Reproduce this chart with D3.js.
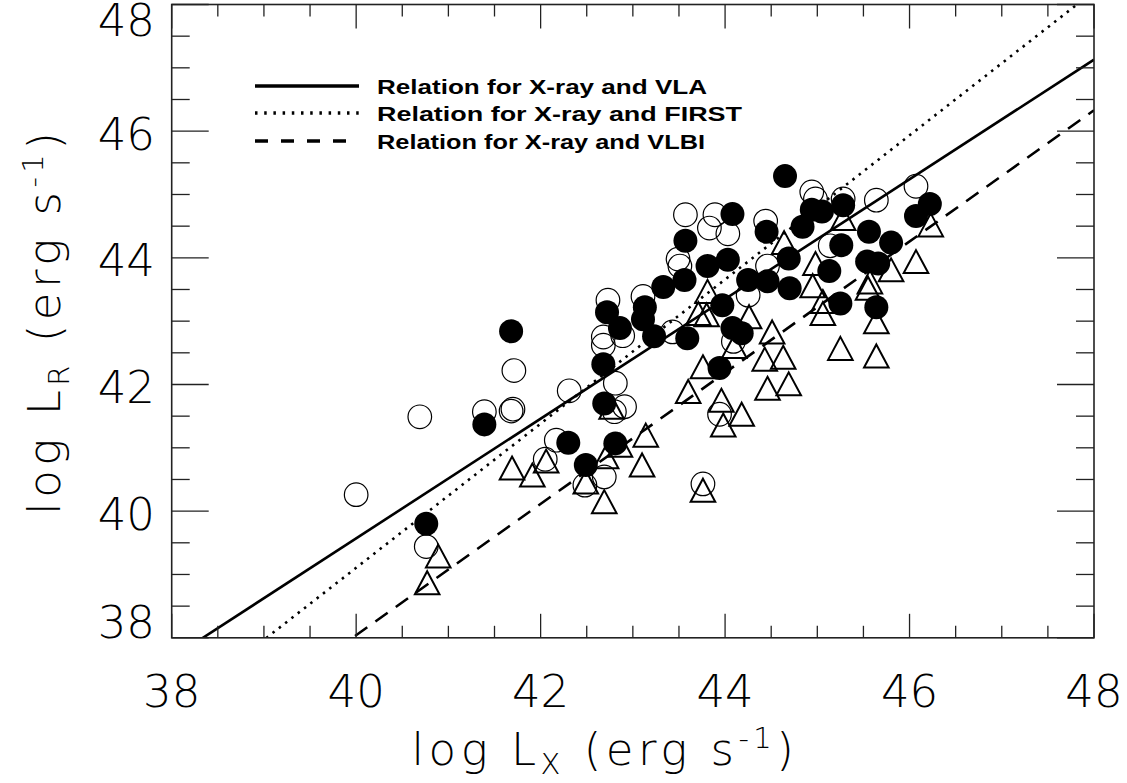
<!DOCTYPE html>
<html>
<head>
<meta charset="utf-8">
<script src="https://cdn.jsdelivr.net/npm/d3@7"></script>
<style>
  body { margin: 0; background: #fff; }
  .tick-label { font-family: "DejaVu Sans", sans-serif; font-weight: 200; fill: #000; }
  .axis-title { font-family: "DejaVu Sans", sans-serif; font-weight: 200; fill: #000; letter-spacing: 4.5px; }
  .legend-text { font-family: "Liberation Sans", Arial, sans-serif; font-weight: bold; fill: #000; }
</style>
</head>
<body>
<div id="chart"></div>
<script>
// log L_X, log L_R pairs
var filledPts = [
  [41.68,42.84],[41.39,41.37],[40.76,39.80],[42.30,41.08],[42.49,40.73],[42.81,41.07],
  [42.69,41.70],[42.68,42.32],[42.72,43.14],[42.86,42.89],[43.13,43.22],[43.11,43.03],
  [43.23,42.76],[44.65,45.29],[44.08,44.69],[44.45,44.41],[44.94,44.76],[44.84,44.49],
  [45.05,44.73],[45.28,44.83],[45.26,44.20],[45.13,43.79],[45.25,43.28],[43.57,44.27],
  [44.03,43.97],[43.81,43.87],[43.56,43.65],[43.33,43.54],[44.25,43.65],[44.46,43.63],
  [44.69,43.99],[44.70,43.52],[43.97,43.25],[44.08,42.89],[44.18,42.81],[43.94,42.26],
  [43.59,42.73],[45.56,44.41],[45.80,44.24],[46.07,44.66],[46.22,44.85],[45.54,43.94],
  [45.66,43.91],[45.64,43.22]
];
var openPts = [
  [40.00,40.26],[40.69,41.49],[40.76,39.44],[41.39,41.57],[41.70,41.61],[41.68,41.58],
  [41.71,42.22],[42.31,41.90],[42.17,41.12],[42.05,40.82],[42.81,42.02],[42.91,41.65],
  [42.80,41.57],[42.68,42.62],[42.68,42.75],[42.89,42.77],[42.73,43.33],[42.48,40.41],
  [42.69,40.54],[43.43,42.83],[43.57,44.68],[43.89,44.68],[43.83,44.47],[44.03,44.38],
  [44.44,44.58],[44.94,45.04],[44.98,44.93],[45.28,44.93],[45.64,44.91],[46.07,45.13],
  [43.49,43.98],[43.51,43.87],[43.11,43.39],[44.25,43.41],[44.46,43.87],[44.09,42.68],
  [45.14,44.19],[43.94,41.53],[43.76,40.43]
];
var trianglePts = [
  [41.69,40.68],[41.91,40.57],[42.06,40.79],[42.49,40.46],[42.69,40.15],[42.71,40.86],
  [42.86,41.04],[43.14,41.20],[43.10,40.73],[42.77,41.64],[40.89,39.29],[40.77,38.87],
  [44.64,44.24],[44.98,43.91],[44.95,43.56],[43.81,43.47],[43.71,43.12],[43.80,43.10],
  [44.26,43.07],[44.51,42.83],[44.10,42.60],[43.76,42.28],[44.43,42.40],[44.63,42.43],
  [43.60,41.89],[44.46,41.94],[44.69,42.01],[43.96,41.75],[44.18,41.53],[43.98,41.36],
  [45.25,42.57],[45.06,43.12],[45.06,43.31],[45.64,42.45],[45.64,42.99],[45.55,43.52],
  [45.57,43.62],[45.80,43.81],[46.07,43.94],[46.23,44.52],[45.28,44.62],[43.76,40.33]
];
// fitted relations, end points at x = 38 and x = 48
var lineVLA = [[38,37.68],[48,47.13]];
var lineFIRST = [[38,36.83],[48,48.21]];
var lineVLBI = [[38,35.97],[48,46.33]];

var legendLabels = ["Relation for X-ray and VLA", "Relation for X-ray and FIRST", "Relation for X-ray and VLBI"];
var majorTicks = [38, 40, 42, 44, 46, 48];
var minorTicks = d3.range(38, 48.01, 0.5).filter(function(v){ return v % 2 !== 0; });

var W = 1127, H = 783;
var pL = 171.7, pR = 1094, pT = 4.5, pB = 637.8;

var svg = d3.select("#chart").append("svg")
    .attr("width", W).attr("height", H);

var x = d3.scaleLinear().domain([38, 48]).range([pL, pR]);
var y = d3.scaleLinear().domain([38, 48]).range([pB, pT]);

svg.append("clipPath").attr("id", "plot-clip")
  .append("rect").attr("x", pL).attr("y", pT)
  .attr("width", pR - pL).attr("height", pB - pT);

var plot = svg.append("g").attr("clip-path", "url(#plot-clip)");

// relation lines
var line = d3.line().x(function(d){ return x(d[0]); }).y(function(d){ return y(d[1]); });
plot.append("path").attr("d", line(lineVLA))
    .attr("fill", "none").attr("stroke", "#000").attr("stroke-width", 2.6);
plot.append("path").attr("d", line(lineFIRST))
    .attr("fill", "none").attr("stroke", "#000").attr("stroke-width", 2.6)
    .attr("stroke-dasharray", "2.5,5.5");
plot.append("path").attr("d", line(lineVLBI))
    .attr("fill", "none").attr("stroke", "#000").attr("stroke-width", 2.6)
    .attr("stroke-dasharray", "15,10");

// markers: open circles and triangles first, filled circles on top
plot.selectAll("circle.open").data(openPts).enter().append("circle")
    .attr("class", "open")
    .attr("cx", function(d){ return x(d[0]); })
    .attr("cy", function(d){ return y(d[1]); })
    .attr("r", 11.8)
    .attr("fill", "none").attr("stroke", "#000").attr("stroke-width", 1.2);

var tri = function(d){
    var cx = x(d[0]), cy = y(d[1]);
    return "M" + cx + "," + (cy - 11.5) + "L" + (cx + 12.3) + "," + (cy + 11.5) +
           "L" + (cx - 12.3) + "," + (cy + 11.5) + "Z";
};
plot.selectAll("path.tri").data(trianglePts).enter().append("path")
    .attr("class", "tri")
    .attr("d", tri)
    .attr("fill", "none").attr("stroke", "#000").attr("stroke-width", 2);

plot.selectAll("circle.filled").data(filledPts).enter().append("circle")
    .attr("class", "filled")
    .attr("cx", function(d){ return x(d[0]); })
    .attr("cy", function(d){ return y(d[1]); })
    .attr("r", 12)
    .attr("fill", "#000");

// frame and ticks
var axes = svg.append("g").attr("stroke", "#222").attr("stroke-width", 1.3);
axes.append("rect").attr("x", pL).attr("y", pT)
    .attr("width", pR - pL).attr("height", pB - pT)
    .attr("fill", "none").attr("stroke-width", 1.6);

function xTicks(vals, len){
    vals.forEach(function(v){
        axes.append("line").attr("x1", x(v)).attr("x2", x(v)).attr("y1", pB).attr("y2", pB - len);
        axes.append("line").attr("x1", x(v)).attr("x2", x(v)).attr("y1", pT).attr("y2", pT + len);
    });
}
function yTicks(vals, len){
    vals.forEach(function(v){
        axes.append("line").attr("y1", y(v)).attr("y2", y(v)).attr("x1", pL).attr("x2", pL + len);
        axes.append("line").attr("y1", y(v)).attr("y2", y(v)).attr("x1", pR).attr("x2", pR - len);
    });
}
xTicks(majorTicks, 24);
xTicks(minorTicks, 12);
yTicks(majorTicks, 37);
yTicks(minorTicks, 18);

// tick labels
svg.selectAll("text.xlab").data(majorTicks).enter().append("text")
    .attr("class", "tick-label")
    .attr("x", function(d){ return x(d); })
    .attr("y", 707)
    .attr("text-anchor", "middle")
    .attr("font-size", 45)
    .text(function(d){ return d; });

svg.selectAll("text.ylab").data(majorTicks).enter().append("text")
    .attr("class", "tick-label")
    .attr("x", 155)
    .attr("y", function(d){ return Math.min(Math.max(y(d) + 2, pT + 15), pB - 16) + 16.5; })
    .attr("text-anchor", "end")
    .attr("font-size", 45)
    .text(function(d){ return d; });

// axis titles
var xt = svg.append("text").attr("class", "axis-title")
    .attr("x", 605).attr("y", 765)
    .attr("text-anchor", "middle").attr("font-size", 45);
xt.append("tspan").text("log L");
xt.append("tspan").attr("font-size", 29).attr("dy", 9).text("X");
xt.append("tspan").attr("dy", -9).text(" (erg s");
xt.append("tspan").attr("font-size", 29).attr("dy", -17).text("-1");
xt.append("tspan").attr("dy", 17).text(")");

var yt = svg.append("text").attr("class", "axis-title")
    .attr("transform", "translate(60," + ((pT + pB) / 2) + ") rotate(-90)")
    .attr("text-anchor", "middle").attr("font-size", 45);
yt.append("tspan").text("log L");
yt.append("tspan").attr("font-size", 29).attr("dy", 9).text("R");
yt.append("tspan").attr("dy", -9).text(" (erg s");
yt.append("tspan").attr("font-size", 29).attr("dy", -17).text("-1");
yt.append("tspan").attr("dy", 17).text(")");

// legend
var legendY = [86, 113, 141];
var legendDash = [null, "2.5,6.7", "13,13"];
var legendEnds = [707, 742, 705];
legendLabels.forEach(function(label, i){
    var l = svg.append("line").attr("x1", 255).attr("x2", 359)
        .attr("y1", legendY[i]).attr("y2", legendY[i])
        .attr("stroke", "#000").attr("stroke-width", 3.5);
    if (legendDash[i]) l.attr("stroke-dasharray", legendDash[i]);
    svg.append("text").attr("class", "legend-text")
        .attr("x", 377).attr("y", legendY[i] + 8)
        .attr("font-size", 21)
        .attr("textLength", legendEnds[i] - 377)
        .attr("lengthAdjust", "spacingAndGlyphs")
        .text(label);
});
</script>
</body>
</html>
